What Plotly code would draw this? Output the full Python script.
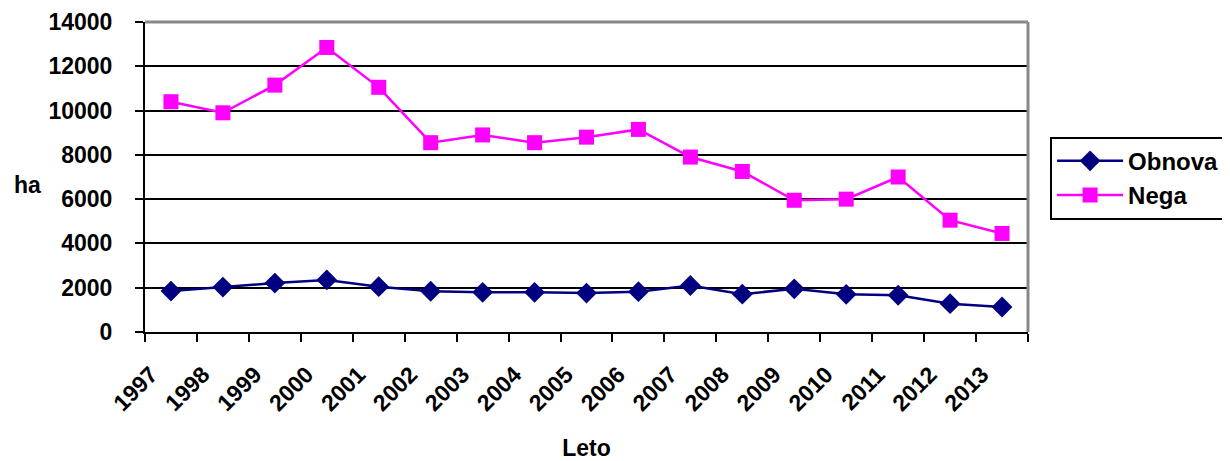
import plotly.graph_objects as go

years = [str(y) for y in range(1997, 2014)]
obnova = [1850, 2030, 2210, 2350, 2045, 1840, 1790, 1790, 1760, 1820, 2100, 1710, 1950, 1700, 1660, 1280, 1130]
nega = [10400, 9900, 11150, 12850, 11050, 8550, 8900, 8550, 8800, 9150, 7900, 7250, 5950, 6000, 7000, 5050, 4450]
y_ticks = [0, 2000, 4000, 6000, 8000, 10000, 12000, 14000]

FONT = "Liberation Sans, Arial, sans-serif"
FS = 23

fig = go.Figure()
fig.add_trace(go.Scatter(
    x=years, y=obnova, name="Obnova", mode="lines+markers",
    line=dict(color="#000080", width=2.5),
    marker=dict(symbol="diamond", size=16, color="#000080"),
))
fig.add_trace(go.Scatter(
    x=years, y=nega, name="Nega", mode="lines+markers",
    line=dict(color="#FF00FF", width=2.5),
    marker=dict(symbol="square", size=15, color="#FF00FF"),
))

fig.update_layout(
    width=1222, height=453,
    margin=dict(l=137, r=202, t=14, b=129, autoexpand=False),
    paper_bgcolor="white", plot_bgcolor="white",
    font=dict(family=FONT, size=FS, color="black"),
    showlegend=True,
    legend=dict(
        x=1.025, y=0.63, xanchor="left", yanchor="top",
        bordercolor="black", borderwidth=2,
        font=dict(family=FONT, size=24, color="black", weight="bold"),
        itemwidth=66, tracegroupgap=0,
    ),
    xaxis=dict(
        type="category", range=[-0.5, 16.5], automargin=False,
        showline=True, linecolor="black", linewidth=2,
        ticks="outside", tickson="boundaries", ticklen=8, tickwidth=2, tickcolor="black",
        tickangle=-45, showgrid=False,
        tickfont=dict(family=FONT, size=FS, weight="bold"),
        ticklabelshift=-20, ticklabelstandoff=18,
        title=dict(text="<b>Leto</b>", font=dict(family=FONT, size=FS), standoff=29),
    ),
    yaxis=dict(
        range=[0, 14000], tickvals=y_ticks, tickformat="d", automargin=False,
        showline=True, linecolor="black", linewidth=2,
        ticks="outside", ticklen=8, tickwidth=2, tickcolor="black",
        showgrid=True, gridcolor="black", gridwidth=2,
        zeroline=False,
        tickfont=dict(family=FONT, size=FS, weight="bold"),
        ticklabelstandoff=18,
    ),
    shapes=[
        dict(type="line", xref="paper", yref="paper", x0=0, x1=1, y0=1, y1=1,
             line=dict(color="#888888", width=3), layer="above"),
        dict(type="line", xref="paper", yref="paper", x0=1, x1=1, y0=0, y1=1,
             line=dict(color="#888888", width=3), layer="above"),
    ],
    annotations=[
        dict(text="<b>ha</b>", xref="paper", yref="paper", x=-0.133, y=0.475,
             xanchor="center", yanchor="middle", showarrow=False,
             font=dict(family=FONT, size=FS, color="black")),
    ],
)

fig.write_html("out.html")
